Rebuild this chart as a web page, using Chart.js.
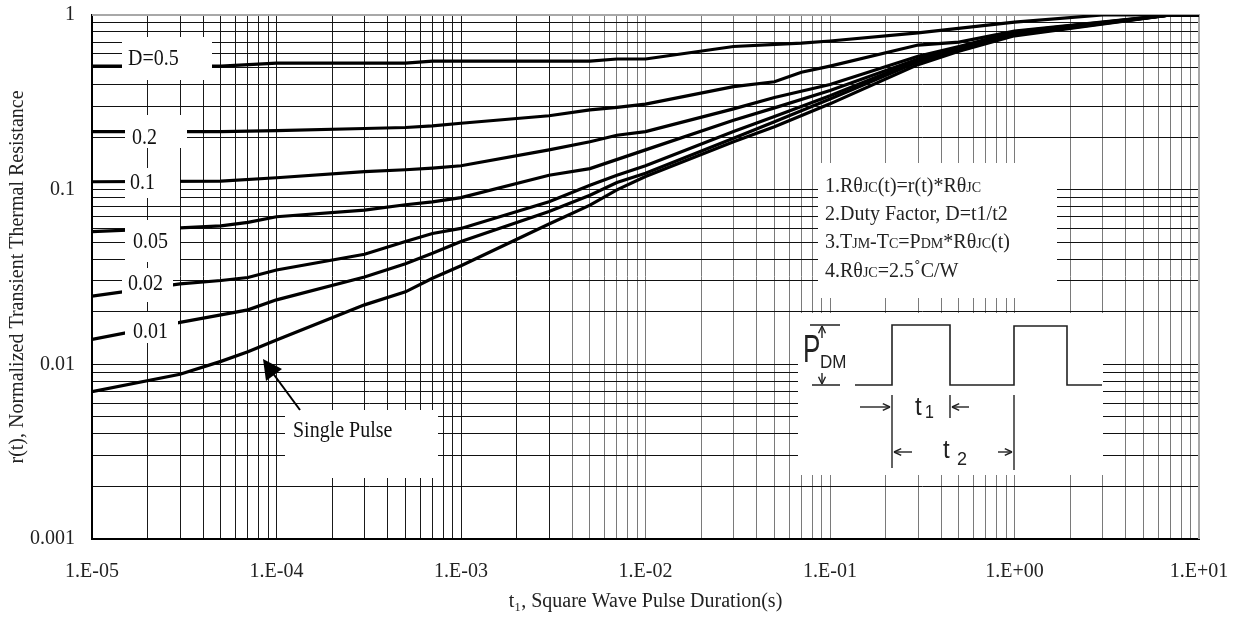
<!DOCTYPE html>
<html><head><meta charset="utf-8">
<script src="https://cdn.jsdelivr.net/npm/chart.js@4.4.1/dist/chart.umd.min.js"></script>
<style>html,body{margin:0;padding:0;background:#fff;}#wrap{width:1235px;height:617px;}</style>
</head><body><div id="wrap"><canvas id="c" width="1235" height="617"></canvas></div>
<script>
// ---- data ----
const xTickValues = [1e-5, 1e-4, 1e-3, 1e-2, 1e-1, 1, 10];
const xTickLabels = ['1.E-05', '1.E-04', '1.E-03', '1.E-02', '1.E-01', '1.E+00', '1.E+01'];
const yTickValues = [0.001, 0.01, 0.1, 1];
const yTickLabels = ['0.001', '0.01', '0.1', '1'];
const minorSteps = [1, 2, 3, 4, 5, 6, 7, 8, 9];
const seriesNames = ['D=0.5', '0.2', '0.1', '0.05', '0.02', '0.01', 'Single Pulse'];

const tD05 = [1e-5, 5e-5, 1e-4, 5e-4, 7e-4, 5e-3, 7e-3, 1e-2, 3e-2, 7e-2, 1e-1, 3e-1, 1, 3, 10];
const rD05 = [0.51, 0.51, 0.53, 0.53, 0.545, 0.545, 0.56, 0.56, 0.66, 0.69, 0.71, 0.79, 0.91, 1.0, 1.0];

const tD02 = [1e-5, 5e-5, 1e-4, 3e-4, 5e-4, 7e-4, 1e-3, 3e-3, 5e-3, 7e-3, 1e-2, 3e-2, 5e-2, 7e-2, 1e-1, 3e-1, 5e-1, 1, 7, 10];
const rD02 = [0.215, 0.215, 0.218, 0.224, 0.227, 0.232, 0.24, 0.265, 0.286, 0.296, 0.309, 0.389, 0.415, 0.47, 0.51, 0.673, 0.70, 0.81, 1.0, 1.0];

const tD01 = [1e-5, 5e-5, 1e-4, 3e-4, 5e-4, 7e-4, 1e-3, 3e-3, 5e-3, 7e-3, 1e-2, 3e-2, 5e-2, 1e-1, 3e-1, 5e-1, 1, 7, 10];
const rD01 = [0.111, 0.112, 0.117, 0.127, 0.130, 0.133, 0.137, 0.169, 0.188, 0.205, 0.215, 0.29, 0.337, 0.40, 0.58, 0.66, 0.80, 1.0, 1.0];

const tD005 = [1e-5, 3e-5, 5e-5, 7e-5, 1e-4, 3e-4, 5e-4, 7e-4, 1e-3, 3e-3, 5e-3, 1e-2, 3e-2, 5e-2, 1e-1, 3e-1, 5e-1, 1, 7, 10];
const rD005 = [0.0575, 0.0605, 0.062, 0.065, 0.070, 0.0763, 0.082, 0.0852, 0.090, 0.121, 0.132, 0.169, 0.25, 0.294, 0.37, 0.56, 0.65, 0.79, 1.0, 1.0];

const tD002 = [1e-5, 3e-5, 5e-5, 7e-5, 1e-4, 3e-4, 5e-4, 7e-4, 1e-3, 3e-3, 5e-3, 7e-3, 1e-2, 3e-2, 5e-2, 1e-1, 3e-1, 5e-1, 1, 7, 10];
const rD002 = [0.0246, 0.0289, 0.0302, 0.0314, 0.0347, 0.0427, 0.0505, 0.0561, 0.060, 0.0853, 0.106, 0.121, 0.137, 0.215, 0.262, 0.345, 0.55, 0.64, 0.78, 1.0, 1.0];

const tD001 = [1e-5, 3e-5, 5e-5, 7e-5, 1e-4, 3e-4, 5e-4, 7e-4, 1e-3, 3e-3, 5e-3, 7e-3, 1e-2, 3e-2, 5e-2, 1e-1, 3e-1, 5e-1, 1, 7, 10];
const rD001 = [0.0139, 0.0174, 0.0192, 0.0205, 0.0234, 0.0316, 0.0377, 0.0432, 0.0505, 0.0749, 0.093, 0.110, 0.124, 0.197, 0.245, 0.33, 0.54, 0.63, 0.77, 1.0, 1.0];

const tSingle = [1e-5, 3e-5, 5e-5, 7e-5, 1e-4, 3e-4, 5e-4, 7e-4, 1e-3, 3e-3, 5e-3, 7e-3, 1e-2, 3e-2, 5e-2, 1e-1, 3e-1, 5e-1, 1, 7, 10];
const rSingle = [0.00697, 0.00878, 0.0104, 0.0118, 0.0138, 0.0219, 0.026, 0.0311, 0.0367, 0.0636, 0.0816, 0.0997, 0.119, 0.188, 0.229, 0.31, 0.52, 0.62, 0.76, 1.0, 1.0];

const noteLines = [
  [['1.R\u03b8', 0], ['JC', 1], ['(t)=r(t)*R\u03b8', 0], ['JC', 1]],
  [['2.Duty Factor, D=t1/t2', 0]],
  [['3.T', 0], ['JM', 1], ['-T', 0], ['C', 1], ['=P', 0], ['DM', 1], ['*R\u03b8', 0], ['JC', 1], ['(t)', 0]],
  [['4.R\u03b8', 0], ['JC', 1], ['=2.5', 0], ['\u02da', 0], ['C/W', 0]]
];

// ---- helpers ----
const SERIF = '"Liberation Serif", "Times New Roman", serif';
const SANS = '"Liberation Sans", Arial, sans-serif';
function gridValues(decades) {
  const out = [];
  decades.forEach((d, i) => {
    if (i === decades.length - 1) { out.push(d); return; }
    minorSteps.forEach(m => out.push(+(d * m).toPrecision(6)));
  });
  return out;
}
const xGrid = gridValues(xTickValues);
const yGrid = gridValues(yTickValues);
function labelFor(v, vals, labs) {
  for (let i = 0; i < vals.length; i++) {
    if (Math.abs(Math.log10(v) - Math.log10(vals[i])) < 1e-6) return labs[i];
  }
  return '';
}
function pts(t, r) { return t.map((x, i) => ({x: x, y: r[i]})); }

function sText(ctx, text, x, y, size, sy, family) {
  ctx.save();
  ctx.font = size + 'px ' + family;
  ctx.translate(x, y);
  ctx.scale(1, sy);
  ctx.fillText(text, 0, 0);
  ctx.restore();
}
function arrow(ctx, x1, y1, x2, y2) {
  ctx.beginPath(); ctx.moveTo(x1, y1); ctx.lineTo(x2, y2); ctx.stroke();
  const a = Math.atan2(y2 - y1, x2 - x1), L = 8, w = 0.45;
  ctx.beginPath();
  ctx.moveTo(x2, y2);
  ctx.lineTo(x2 - L * Math.cos(a - w), y2 - L * Math.sin(a - w));
  ctx.moveTo(x2, y2);
  ctx.lineTo(x2 - L * Math.cos(a + w), y2 - L * Math.sin(a + w));
  ctx.stroke();
}

const boxes = [
  [122, 37, 212, 80], [125, 115, 187, 148], [125, 168, 180, 198], [125, 220, 180, 262],
  [122, 268, 173, 302], [125, 312, 178, 343], [285, 410, 438, 478],
  [818, 163, 1057, 298], [798, 313, 1103, 475]
];
const labelPos = [[128, 65], [132, 144], [130, 189], [133, 248], [128, 290], [133, 338], [293, 437]];

const overlay = {
  id: 'overlay',
  beforeDatasetsDraw(chart) {
    const {ctx, chartArea: a} = chart;
    ctx.save();
    ctx.strokeStyle = '#a8a8a8';
    ctx.lineWidth = 2;
    ctx.beginPath();
    ctx.moveTo(a.left, a.top); ctx.lineTo(a.right, a.top); ctx.lineTo(a.right, a.bottom);
    ctx.stroke();
    ctx.restore();
  },
  afterDatasetsDraw(chart) {
    const ctx = chart.ctx;
    ctx.save();
    ctx.fillStyle = '#fff';
    boxes.forEach(b => ctx.fillRect(b[0], b[1], b[2] - b[0], b[3] - b[1]));
    ctx.fillStyle = '#111';
    ctx.textBaseline = 'alphabetic';
    ctx.textAlign = 'left';
    seriesNames.forEach((n, i) => sText(ctx, n, labelPos[i][0], labelPos[i][1], 20, 1.12, SERIF));

    // single pulse arrow
    ctx.strokeStyle = '#000'; ctx.fillStyle = '#000'; ctx.lineWidth = 2;
    ctx.beginPath(); ctx.moveTo(300, 410); ctx.lineTo(272, 372); ctx.stroke();
    ctx.beginPath(); ctx.moveTo(263, 359); ctx.lineTo(266, 381); ctx.lineTo(282, 369); ctx.closePath(); ctx.fill();

    // notes
    ctx.fillStyle = '#222';
    const baselines = [192, 220, 248, 277];
    noteLines.forEach((segs, li) => {
      let cx = 825;
      segs.forEach(([t, small]) => {
        const size = small ? 14 : 20;
        const y = (t === '\u02da') ? baselines[li] - 2 : baselines[li];
        sText(ctx, t, cx, y, size, 1.1, SERIF);
        ctx.font = size + 'px ' + SERIF;
        cx += ctx.measureText(t).width;
      });
    });

    // pulse diagram
    ctx.strokeStyle = '#222'; ctx.lineWidth = 1.6;
    ctx.beginPath();
    const wave = [[855, 385], [892, 385], [892, 325], [950, 325], [950, 385], [1014, 385], [1014, 326], [1067, 326], [1067, 385], [1102, 385]];
    wave.forEach((p, i) => i ? ctx.lineTo(p[0], p[1]) : ctx.moveTo(p[0], p[1]));
    ctx.stroke();
    ctx.lineWidth = 1.4;
    ctx.beginPath();
    ctx.moveTo(810, 325); ctx.lineTo(840, 325);
    ctx.moveTo(812, 385); ctx.lineTo(840, 385);
    ctx.moveTo(892, 395); ctx.lineTo(892, 468);
    ctx.moveTo(950, 395); ctx.lineTo(950, 418);
    ctx.moveTo(1014, 395); ctx.lineTo(1014, 470);
    ctx.stroke();
    arrow(ctx, 822, 338, 822, 326);
    arrow(ctx, 822, 373, 822, 384);
    arrow(ctx, 860, 407, 890, 407);
    arrow(ctx, 969, 407, 952, 407);
    arrow(ctx, 912, 452, 894, 452);
    arrow(ctx, 998, 452, 1012, 452);
    ctx.fillStyle = '#222';
    sText(ctx, 'P', 803, 362, 26, 1.5, SANS);
    sText(ctx, 'DM', 820, 368, 17, 1.05, SANS);
    sText(ctx, 't', 915, 415, 24, 1.05, SANS);
    sText(ctx, '1', 925, 418, 16, 1.1, SANS);
    sText(ctx, 't', 943, 458, 24, 1.05, SANS);
    sText(ctx, '2', 957, 465, 18, 1.05, SANS);
    ctx.restore();
  }
};

const mk = (name, t, r) => ({label: name, data: pts(t, r), borderColor: '#000', borderWidth: 3.2, pointRadius: 0, fill: false, tension: 0});

new Chart(document.getElementById('c'), {
  type: 'line',
  data: {
    datasets: [
      mk(seriesNames[0], tD05, rD05),
      mk(seriesNames[1], tD02, rD02),
      mk(seriesNames[2], tD01, rD01),
      mk(seriesNames[3], tD005, rD005),
      mk(seriesNames[4], tD002, rD002),
      mk(seriesNames[5], tD001, rD001),
      mk(seriesNames[6], tSingle, rSingle)
    ]
  },
  options: {
    responsive: false, animation: false, devicePixelRatio: 1,
    layout: {padding: {left: 0, right: 36, top: 15, bottom: 0}},
    plugins: {legend: {display: false}, tooltip: {enabled: false}},
    scales: {
      x: {
        type: 'logarithmic', min: 1e-5, max: 10,
        afterBuildTicks: s => { s.ticks = xGrid.map(v => ({value: v})); },
        afterFit: s => { s.height = 78; s.paddingLeft = 0; s.paddingRight = 0; },
        ticks: {autoSkip: false, maxRotation: 0, minRotation: 0, padding: 21, color: '#222',
          font: {family: SERIF, size: 20},
          callback: v => labelFor(v, xTickValues, xTickLabels)},
        grid: {drawTicks: false, lineWidth: 1,
          color: c => (c.tick && c.tick.value < 0.0035) ? '#1a1a1a' : '#7a7a7a'},
        border: {color: '#000', width: 2},
        title: {display: true, text: 't\u2081, Square Wave Pulse Duration(s)', color: '#222',
          font: {family: SERIF, size: 20}, padding: {top: 0, bottom: 3}}
      },
      y: {
        type: 'logarithmic', min: 0.001, max: 1,
        afterBuildTicks: s => { s.ticks = yGrid.map(v => ({value: v})); },
        afterFit: s => { s.width = 92; s.paddingTop = 0; s.paddingBottom = 0; },
        ticks: {autoSkip: false, padding: 17, color: '#222',
          font: {family: SERIF, size: 20},
          callback: v => labelFor(v, yTickValues, yTickLabels)},
        grid: {drawTicks: false, lineWidth: 1, color: '#111'},
        border: {color: '#000', width: 2},
        title: {display: true, text: 'r(t), Normalized Transient Thermal Resistance', color: '#222',
          font: {family: SERIF, size: 20}, padding: {top: 6, bottom: 0}}
      }
    }
  },
  plugins: [overlay]
});
</script></body></html>
